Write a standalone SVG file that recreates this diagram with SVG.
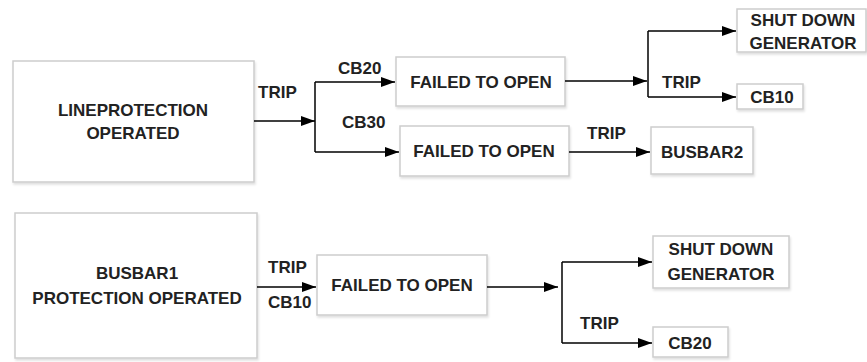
<svg xmlns="http://www.w3.org/2000/svg" width="867" height="362" viewBox="0 0 867 362">
<style>
.box{fill:#fff;stroke:#cdcdcd;stroke-width:1.5}
.t{font-family:"Liberation Sans",Arial,sans-serif;font-weight:bold;font-size:17px;fill:#222}
.m{text-anchor:middle}
.ln{stroke:#000;stroke-width:1.5;fill:none}
.arr{marker-end:url(#ah)}
</style>
<defs>
<filter id="sh" x="-10%" y="-10%" width="120%" height="130%">
<feDropShadow dx="1" dy="2" stdDeviation="1.2" flood-color="#000" flood-opacity="0.12"/>
</filter>
<marker id="ah" markerUnits="userSpaceOnUse" markerWidth="14" markerHeight="10" refX="14" refY="5" orient="auto">
<path d="M0,0 L14,5 L0,10 z" fill="#000"/>
</marker>
</defs>
<rect width="867" height="362" fill="#fff"/>
<g id="n1"><rect class="box" filter="url(#sh)" x="13" y="61" width="241" height="121"/><text class="t m" x="133" y="116">LINEPROTECTION</text><text class="t m" x="133" y="139">OPERATED</text></g>
<g id="n2"><rect class="box" filter="url(#sh)" x="396" y="57" width="169" height="49"/><text class="t m" x="481" y="88">FAILED TO OPEN</text></g>
<g id="n3"><rect class="box" filter="url(#sh)" x="400" y="126" width="169" height="50"/><text class="t m" x="484" y="157">FAILED TO OPEN</text></g>
<g id="n4"><rect class="box" filter="url(#sh)" x="737" y="9" width="129" height="43"/><text class="t m" x="803" y="26">SHUT DOWN</text><text class="t m" x="803" y="49">GENERATOR</text></g>
<g id="n5"><rect class="box" filter="url(#sh)" x="737" y="84" width="66" height="25"/><text class="t m" x="772" y="103">CB10</text></g>
<g id="n6"><rect class="box" filter="url(#sh)" x="651" y="127" width="102" height="47"/><text class="t m" x="702" y="158">BUSBAR2</text></g>
<g id="n7"><rect class="box" filter="url(#sh)" x="15" y="213" width="242" height="145"/><text class="t m" x="137" y="279">BUSBAR1</text><text class="t m" x="137" y="304">PROTECTION OPERATED</text></g>
<g id="n8"><rect class="box" filter="url(#sh)" x="317" y="255" width="170" height="60"/><text class="t m" x="402" y="291">FAILED TO OPEN</text></g>
<g id="n9"><rect class="box" filter="url(#sh)" x="653" y="236" width="136" height="52"/><text class="t m" x="721" y="255">SHUT DOWN</text><text class="t m" x="721" y="280">GENERATOR</text></g>
<g id="n10"><rect class="box" filter="url(#sh)" x="653" y="327" width="75" height="30"/><text class="t m" x="690" y="349">CB20</text></g>
<g id="connectors">
<line class="ln arr" x1="254" y1="121" x2="315" y2="121"/>
<line class="ln" x1="315" y1="82" x2="315" y2="152"/>
<line class="ln arr" x1="315" y1="82" x2="395" y2="82"/>
<line class="ln arr" x1="315" y1="152" x2="399" y2="152"/>
<line class="ln arr" x1="565" y1="81" x2="647" y2="81"/>
<line class="ln" x1="648" y1="31" x2="648" y2="97"/>
<line class="ln arr" x1="648" y1="31" x2="736" y2="31"/>
<line class="ln arr" x1="648" y1="97" x2="736" y2="97"/>
<line class="ln arr" x1="569" y1="152" x2="650" y2="152"/>
<line class="ln arr" x1="257" y1="287" x2="316" y2="287"/>
<line class="ln arr" x1="487" y1="287" x2="558" y2="287"/>
<line class="ln" x1="562" y1="262" x2="562" y2="343"/>
<line class="ln arr" x1="562" y1="262" x2="652" y2="262"/>
<line class="ln arr" x1="562" y1="343" x2="652" y2="343"/>
<text class="t" x="258" y="98">TRIP</text>
<text class="t" x="338" y="74">CB20</text>
<text class="t" x="342" y="128">CB30</text>
<text class="t" x="662" y="88">TRIP</text>
<text class="t" x="587" y="139">TRIP</text>
<text class="t" x="268" y="273">TRIP</text>
<text class="t" x="268" y="308">CB10</text>
<text class="t" x="580" y="329">TRIP</text>
</g>
</svg>
